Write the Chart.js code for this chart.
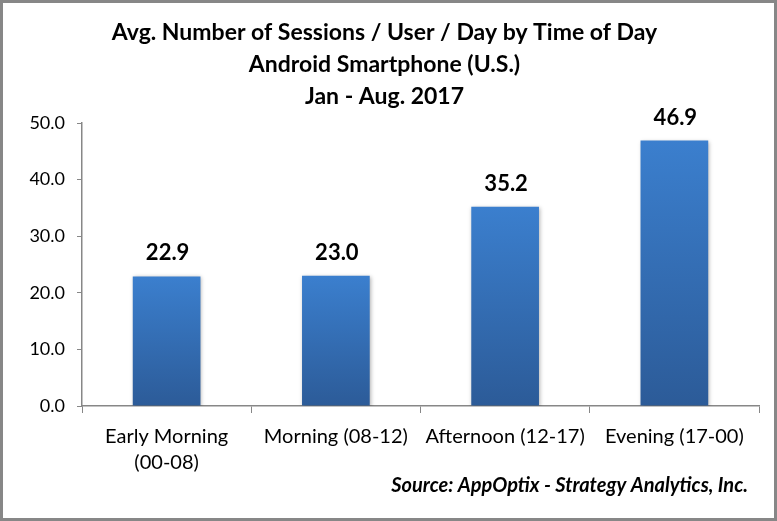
<!DOCTYPE html>
<html>
<head>
<meta charset="utf-8">
<script src="https://cdn.jsdelivr.net/npm/chart.js@4/dist/chart.umd.min.js"></script>
<style>
  html, body { margin: 0; padding: 0; background: #fff; }
  #wrap { width: 777px; height: 521px; position: relative; }
</style>
</head>
<body>
<div id="wrap"><canvas id="chart" width="777" height="521"></canvas></div>
<script>
var categories = [['Early Morning', '(00-08)'], 'Morning (08-12)', 'Afternoon (12-17)', 'Evening (17-00)']
var sessions = [22.9, 23.0, 35.2, 46.9]
var titleLines = ['Avg. Number of Sessions / User / Day by Time of Day', 'Android Smartphone (U.S.)', 'Jan - Aug. 2017']
var sourceText = 'Source: AppOptix - Strategy Analytics, Inc.'

var fontFamily = 'Lato, "Open Sans", sans-serif'

// Grey frame round the whole picture + source note
var framePlugin = {
    id: 'frame',
    beforeDraw(chart) {
        var ctx = chart.ctx
        ctx.save()
        ctx.fillStyle = '#fff'
        ctx.fillRect(0, 0, chart.width, chart.height)
        ctx.restore()
    },
    afterDraw(chart) {
        var ctx = chart.ctx
        ctx.save()
        ctx.strokeStyle = '#878787'
        ctx.lineWidth = 3
        ctx.strokeRect(1.5, 1.5, chart.width - 3, chart.height - 3)
        ctx.fillStyle = '#000'
        ctx.font = 'italic bold 20px ' + fontFamily
        ctx.textAlign = 'right'
        ctx.textBaseline = 'middle'
        ctx.fillText(sourceText, 748, 486)
        ctx.restore()
    }
}

// Bar shadow + value labels above the bars
var barLabelPlugin = {
    id: 'barLabels',
    beforeDatasetsDraw(chart) {
        var ctx = chart.ctx
        ctx.save()
        ctx.shadowColor = 'rgba(0,0,0,0.3)'
        ctx.shadowBlur = 4
        ctx.shadowOffsetX = 1
        ctx.shadowOffsetY = 1
    },
    afterDatasetsDraw(chart) {
        var ctx = chart.ctx
        ctx.restore()
        ctx.save()
        ctx.fillStyle = '#000'
        ctx.font = 'bold 22px ' + fontFamily
        ctx.textAlign = 'center'
        ctx.textBaseline = 'alphabetic'
        chart.getDatasetMeta(0).data.forEach((bar, i) => {
            ctx.fillText(sessions[i].toFixed(1), bar.x + 1, bar.y - 16)
        })
        ctx.restore()
    }
}

function barGradient(context) {
    var chart = context.chart
    var y = chart.scales.y
    if (!chart.chartArea || !y || context.raw == null) return '#3572BC'
    var top = y.getPixelForValue(context.raw)
    var g = chart.ctx.createLinearGradient(0, top, 0, y.getPixelForValue(0))
    g.addColorStop(0, '#3B7FCE')
    g.addColorStop(1, '#2C5B98')
    return g
}

var config = {
    type: 'bar',
    data: {
        labels: categories,
        datasets: [{
            data: sessions,
            backgroundColor: barGradient,
            borderWidth: 0,
            barPercentage: 0.4,
            categoryPercentage: 1
        }]
    },
    options: {
        responsive: false,
        animation: false,
        events: [],
        layout: {
            padding: { left: 10, right: 18, top: 0, bottom: 0 }
        },
        plugins: {
            legend: { display: false },
            tooltip: { enabled: false },
            title: {
                display: true,
                text: titleLines,
                color: '#000',
                font: { family: fontFamily, size: 23, weight: 'bold', lineHeight: 32 / 23 },
                padding: { top: 17, bottom: 10 }
            }
        },
        scales: {
            x: {
                grid: { display: true, drawOnChartArea: false, drawTicks: true, tickLength: 7, color: '#878787', offset: true },
                border: { color: '#878787', width: 1.5 },
                ticks: { color: '#000', font: { family: fontFamily, size: 20, lineHeight: 1.3 }, padding: 11, maxRotation: 0, autoSkip: false },
                afterFit(scale) { scale.height = 115 }
            },
            y: {
                min: 0,
                max: 50,
                grid: { display: true, drawOnChartArea: false, drawTicks: true, tickLength: 5, color: '#878787' },
                border: { color: '#878787', width: 1.5 },
                ticks: {
                    stepSize: 10,
                    color: '#000',
                    font: { family: fontFamily, size: 18 },
                    padding: 12,
                    callback: (v) => v.toFixed(1)
                },
                afterFit(scale) { scale.width = 72 }
            }
        }
    },
    plugins: [framePlugin, barLabelPlugin]
}

var chart = new Chart(document.getElementById('chart'), config)
</script>
</body>
</html>
